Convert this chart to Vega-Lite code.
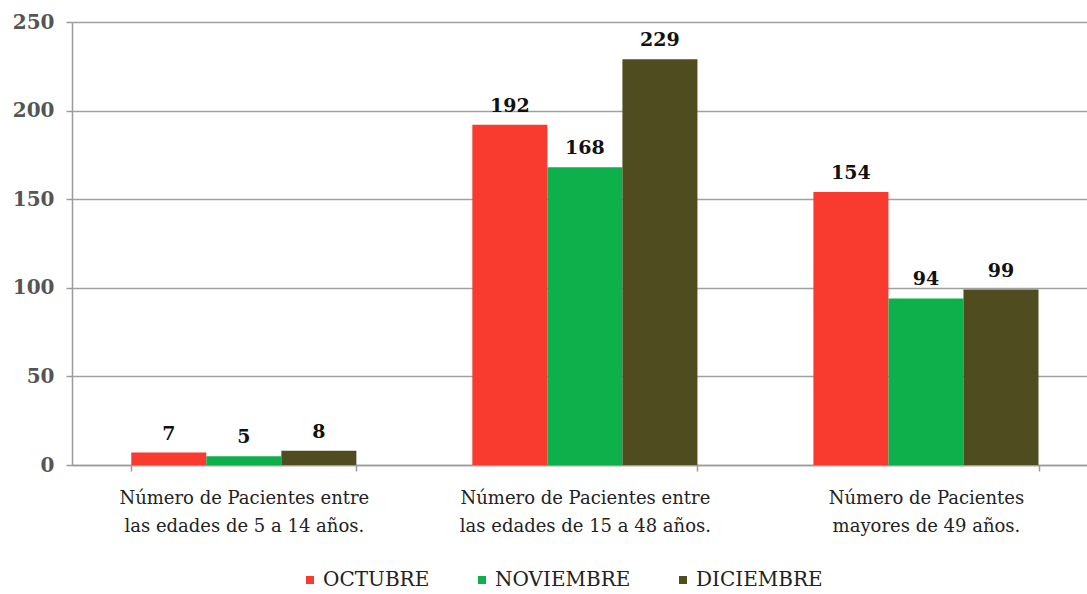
{
  "$schema": "https://vega.github.io/schema/vega-lite/v6.json",
  "width": 1015,
  "height": 443,
  "autosize": {"type": "none"},
  "padding": {"left": 72, "top": 22, "right": 0, "bottom": 129},
  "background": "white",
  "config": {"view": {"stroke": null}},
  "data": {
    "values": [
      {"grupo": "Número de Pacientes entre|las edades de 5 a 14 años.", "mes": "OCTUBRE", "valor": 7},
      {"grupo": "Número de Pacientes entre|las edades de 5 a 14 años.", "mes": "NOVIEMBRE", "valor": 5},
      {"grupo": "Número de Pacientes entre|las edades de 5 a 14 años.", "mes": "DICIEMBRE", "valor": 8},
      {"grupo": "Número de Pacientes entre|las edades de 15 a 48 años.", "mes": "OCTUBRE", "valor": 192},
      {"grupo": "Número de Pacientes entre|las edades de 15 a 48 años.", "mes": "NOVIEMBRE", "valor": 168},
      {"grupo": "Número de Pacientes entre|las edades de 15 a 48 años.", "mes": "DICIEMBRE", "valor": 229},
      {"grupo": "Número de Pacientes|mayores de 49 años.", "mes": "OCTUBRE", "valor": 154},
      {"grupo": "Número de Pacientes|mayores de 49 años.", "mes": "NOVIEMBRE", "valor": 94},
      {"grupo": "Número de Pacientes|mayores de 49 años.", "mes": "DICIEMBRE", "valor": 99}
    ]
  },
  "encoding": {
    "x": {
      "field": "grupo",
      "type": "nominal",
      "sort": null,
      "scale": {"paddingInner": 0.34, "paddingOuter": 0.158, "align": 0.55},
      "axis": {
        "title": null,
        "labelAngle": 0,
        "labelExpr": "split(datum.label, '|')",
        "labelFont": "DejaVu Serif",
        "labelFontSize": 18,
        "labelColor": "#222222",
        "labelLineHeight": 28,
        "labelPadding": 18,
        "labelLimit": 0,
        "tickBand": "extent",
        "tickSize": 6,
        "tickColor": "#9a9a9a",
        "tickWidth": 1.5,
        "domainColor": "#9a9a9a",
        "domainWidth": 1.5,
        "grid": false
      }
    },
    "xOffset": {
      "field": "mes",
      "type": "nominal",
      "sort": ["OCTUBRE", "NOVIEMBRE", "DICIEMBRE"],
      "scale": {"paddingInner": 0, "paddingOuter": 0}
    },
    "y": {
      "field": "valor",
      "type": "quantitative",
      "scale": {"domain": [0, 250], "nice": false},
      "axis": {
        "title": null,
        "values": [0, 50, 100, 150, 200, 250],
        "labelFont": "DejaVu Serif",
        "labelFontWeight": "bold",
        "labelFontSize": 20,
        "labelColor": "#555555",
        "labelPadding": 12,
        "tickSize": 6,
        "tickColor": "#9a9a9a",
        "tickWidth": 1.5,
        "domainColor": "#9a9a9a",
        "domainWidth": 1.5,
        "grid": true,
        "gridColor": "#a0a0a0",
        "gridWidth": 1.5
      }
    }
  },
  "layer": [
    {
      "mark": {"type": "bar"},
      "encoding": {
        "color": {
          "field": "mes",
          "type": "nominal",
          "sort": ["OCTUBRE", "NOVIEMBRE", "DICIEMBRE"],
          "scale": {"domain": ["OCTUBRE", "NOVIEMBRE", "DICIEMBRE"], "range": ["#f93a2f", "#0db04b", "#4f4d20"]},
          "legend": {
            "title": null,
            "orient": "none",
            "direction": "horizontal",
            "legendX": 228,
            "legendY": 548,
            "symbolType": "square",
            "symbolSize": 64,
            "symbolStrokeWidth": 0,
            "labelFont": "DejaVu Serif",
            "labelFontSize": 20,
            "labelColor": "#222222",
            "labelOffset": 3,
            "labelLimit": 0,
            "columnPadding": 42
          }
        }
      }
    },
    {
      "mark": {"type": "text", "baseline": "bottom", "dy": -9, "font": "DejaVu Serif", "fontWeight": "bold", "fontSize": 19, "color": "#111111"},
      "encoding": {"text": {"field": "valor", "type": "quantitative"}}
    }
  ]
}
